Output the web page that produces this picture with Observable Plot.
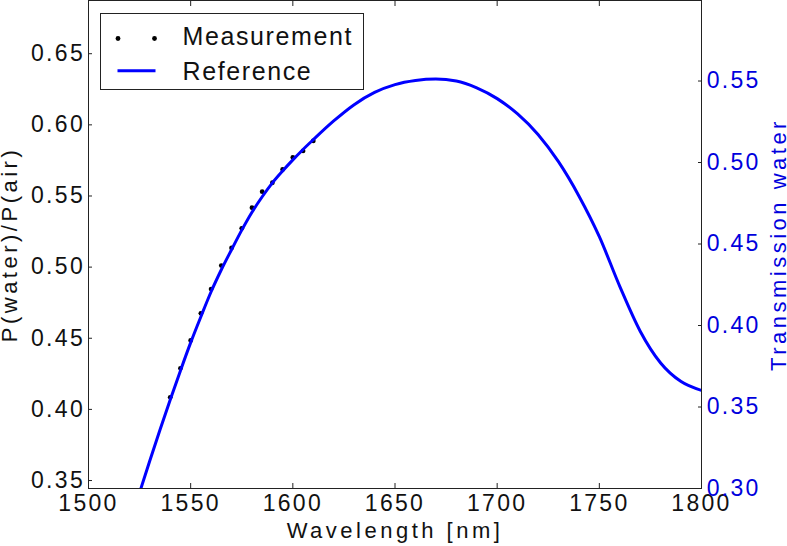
<!DOCTYPE html>
<html><head><meta charset="utf-8">
<script src="https://cdn.jsdelivr.net/npm/d3@7"></script>
<script src="https://cdn.jsdelivr.net/npm/@observablehq/plot@0.6"></script>
<style>
body{margin:0;background:#fff;}
#wrap{position:relative;width:787px;height:546px;font-family:"Liberation Sans",Arial,sans-serif;overflow:hidden;}
#wrap svg{position:absolute;left:0;top:0;background:transparent;}
</style></head><body><div id="wrap"></div>
<script>
// Measurement (left axis: P(water)/P(air))
const measWavelength = [1540,1545,1550,1555,1560,1565,1570,1575,1580,1585,1590,1595,1600,1605,1610];
const measRatio = [0.4085,0.4289,0.4485,0.4675,0.4846,0.5011,0.5135,0.5273,0.5418,0.5530,0.5593,0.5687,0.5771,0.5817,0.5887];
// Reference (right axis: Transmission water)
const refWavelength = [1525,1530,1535,1540,1545,1550,1555,1560,1565,1570,1575,1580,1585,1590,1595,1600,1605,1610,1620,1630,1640,1650,1660,1670,1680,1690,1700,1710,1720,1730,1740,1750,1760,1770,1780,1790,1800];
const refTransmission = [0.2975,0.3170,0.3360,0.3545,0.3723,0.3895,0.4054,0.4207,0.4342,0.4465,0.4585,0.4695,0.4790,0.4875,0.4948,0.5016,0.5080,0.5140,0.5255,0.5355,0.5430,0.5478,0.5503,0.5512,0.5500,0.5458,0.5392,0.5298,0.5172,0.5005,0.4795,0.4545,0.4240,0.3965,0.3770,0.3656,0.3602];
// Ticks
const xTicks = [1500,1550,1600,1650,1700,1750,1800];
const leftTicks = [0.35,0.40,0.45,0.50,0.55,0.60,0.65];
const rightTicks = [0.30,0.35,0.40,0.45,0.50,0.55];
const xLabel = "Wavelength [nm]";
const leftLabel = "P(water)/P(air)";
const rightLabel = "Transmission water";
const legendLabels = ["Measurement","Reference"];

const meas = measWavelength.map((w,i)=>({w, v: measRatio[i]}));
const ref = refWavelength.map((w,i)=>({w, v: refTransmission[i]}));

const W = 787, H = 546;
const common = {
  width: W, height: H,
  marginLeft: 88, marginRight: 86, marginTop: 0, marginBottom: 58,
  style: {fontFamily: '"Liberation Sans", Arial, sans-serif', fontSize: "23px", background: "transparent", overflow: "visible"}
};
const fmt2 = d3.format(".2f");

const chartLeft = Plot.plot({
  ...common,
  x: {domain: [1500, 1800]},
  y: {domain: [0.3444, 0.6874]},
  marks: [
    Plot.frame({stroke: "#222", strokeWidth: 1}),
    Plot.axisX(xTicks, {anchor: "bottom", tickSize: -5, tickPadding: 11.5, stroke: "#222", fill: "#111", fontSize: 23, tickFormat: d => String(d), label: null}),
    Plot.axisX(xTicks, {anchor: "top", tickSize: -5, stroke: "#222", tickFormat: () => "", label: null}),
    Plot.axisY(leftTicks, {anchor: "left", tickSize: -4, tickPadding: 7.5, stroke: "#222", fill: "#111", fontSize: 23, tickFormat: fmt2, label: null}),
    Plot.dot(meas, {x: "w", y: "v", r: 2.4, fill: "black", stroke: null}),
    Plot.text([xLabel], {text: d => d, frameAnchor: "bottom", textAnchor: "middle", lineAnchor: "middle", dy: 42.4, fill: "#111", fontSize: 22}),
    Plot.text([leftLabel], {text: d => d, frameAnchor: "left", textAnchor: "middle", lineAnchor: "middle", rotate: -90, dx: -79, fill: "#111", fontSize: 22})
  ]
});

const chartRight = Plot.plot({
  ...common,
  x: {domain: [1500, 1800], axis: null},
  y: {domain: [0.30, 0.5994]},
  marks: [
    Plot.line(ref, {x: "w", y: "v", stroke: "#0000ff", strokeWidth: 3, curve: "monotone-x", clip: true}),
    Plot.axisY(rightTicks, {anchor: "right", tickSize: -4, tickPadding: 9.2, stroke: "#222", fill: "#0000dd", fontSize: 23, tickFormat: fmt2, label: null}),
    Plot.text([rightLabel], {text: d => d, frameAnchor: "right", textAnchor: "middle", lineAnchor: "middle", rotate: -90, dx: 77.7, fill: "#0000dd", fontSize: 22})
  ]
});

for (const svg of [chartLeft, chartRight]) {
  svg.querySelectorAll('g[aria-label$="tick label"] text').forEach(t => t.setAttribute("letter-spacing", "2.3px"));
  svg.querySelectorAll('g[aria-label="text"] text').forEach(t => t.setAttribute("letter-spacing", "3.5px"));
}

const wrap = document.getElementById("wrap");
wrap.appendChild(chartLeft);
wrap.appendChild(chartRight);

// Legend box
const leg = d3.create("svg").attr("width", W).attr("height", H)
  .style("position","absolute").style("left","0").style("top","0");
const g = leg.append("g").attr("transform", "translate(100.5,13.5)");
g.append("rect").attr("width", 263).attr("height", 76).attr("fill", "white").attr("stroke", "#222").attr("stroke-width", 1);
g.append("circle").attr("cx", 17.5).attr("cy", 25).attr("r", 2.4).attr("fill", "black");
g.append("circle").attr("cx", 54).attr("cy", 25).attr("r", 2.4).attr("fill", "black");
g.append("line").attr("x1", 17).attr("x2", 55).attr("y1", 57.3).attr("y2", 57.3).attr("stroke", "#0000ff").attr("stroke-width", 3);
g.selectAll("text.lab").data(legendLabels).join("text")
  .attr("x", 82).attr("y", (d,i) => i === 0 ? 31 : 66.5)
  .attr("font-family", '"Liberation Sans", Arial, sans-serif')
  .attr("font-size", 25).attr("letter-spacing", "1.6px").attr("fill", "#111")
  .text(d => d);
wrap.appendChild(leg.node());
</script>
</body></html>
